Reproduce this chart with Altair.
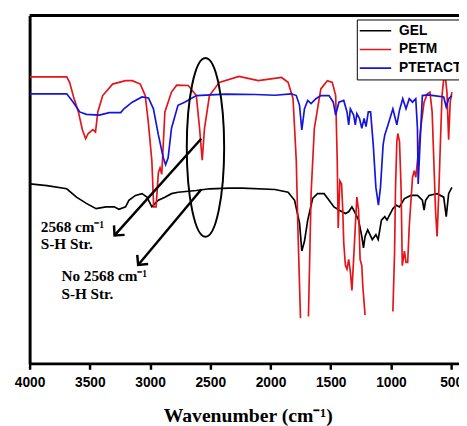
import altair as alt
import pandas as pd

# ---------------- data ----------------
series_names = ["GEL", "PETM", "PTETACT"]
series_colors = ["#000000", "#e3151a", "#1414dc"]
tick_values = [4000, 3500, 3000, 2500, 2000, 1500, 1000, 500]

gel_wn = [3998, 3856, 3692, 3611, 3529, 3448, 3366, 3298, 3258, 3203, 3176, 3121,
          3067, 3026, 2985, 2958, 2931, 2877, 2822, 2768, 2616, 2507, 2344, 2234,
          1963, 1854, 1800, 1759, 1740, 1718, 1691, 1650, 1610, 1555, 1514, 1473,
          1432, 1378, 1351, 1324, 1302, 1269, 1242, 1228, 1215, 1193, 1174, 1155,
          1125, 1106, 1079, 1051, 1033, 1011, 984, 957, 929, 888, 834, 780, 739,
          725, 712, 684, 617, 562, 541, 521, 494]
gel_t = [51.6, 51.1, 50.2, 47.8, 46.0, 44.5, 45.0, 45.0, 44.3, 45.0, 46.9, 48.3,
         48.8, 47.8, 45.0, 46.0, 46.9, 47.8, 48.8, 49.2, 49.7, 50.2, 50.4, 50.4,
         50.0, 49.2, 46.9, 40.3, 32.3, 35.1, 41.2, 47.4, 48.8, 48.8, 46.9, 45.0,
         44.1, 43.1, 43.6, 45.0, 43.6, 41.2, 36.5, 33.2, 36.5, 38.4, 37.0, 35.6,
         37.0, 35.6, 41.2, 42.2, 41.2, 42.7, 44.5, 45.5, 45.0, 47.4, 48.3, 48.3, 46.9,
         44.1, 46.9, 48.3, 48.8, 47.8, 42.2, 48.8, 50.6]

ptetact_wn = [3998, 3692, 3638, 3584, 3529, 3421, 3339, 3244, 3217, 3148, 3067, 3013,
              2972, 2931, 2890, 2871, 2850, 2822, 2768, 2713, 2616, 2371, 2126, 1963,
              1827, 1786, 1759, 1740, 1718, 1691, 1663, 1623, 1582, 1514, 1479, 1459,
              1432, 1392, 1365, 1351, 1337, 1310, 1296, 1283, 1261, 1242, 1223, 1207,
              1188, 1169, 1147, 1125, 1104, 1087, 1065, 1051, 1024, 984, 951, 929, 902,
              875, 848, 821, 794, 780, 774, 759, 739, 698, 644, 562, 541, 521, 494]
ptetact_t = [77.5, 77.5, 75.1, 72.3, 71.6, 71.4, 72.1, 72.1, 73.2, 75.1, 76.6, 76.3,
             73.2, 65.7, 59.1, 57.1, 59.1, 67.6, 74.2, 75.1, 77.0, 77.4, 77.3, 77.1,
             77.5, 77.0, 74.2, 67.1, 73.2, 75.6, 74.7, 76.1, 77.0, 77.0, 75.1, 71.4,
             75.1, 75.6, 72.3, 68.6, 73.2, 71.4, 68.6, 71.8, 70.4, 67.6, 70.4, 68.1,
             72.3, 72.3, 62.9, 50.6, 45.5, 50.6, 62.9, 65.7, 68.6, 73.2, 68.6, 72.8, 76.1,
             73.2, 76.1, 75.1, 76.1, 67.6, 51.6, 62.9, 77.0, 77.2, 77.0, 76.6, 73.7, 76.1, 77.0]

# PETM runs off the bottom of its trace in three places, so it is drawn in pieces
petm_wn_a = [3998, 3692, 3668, 3635, 3595, 3562, 3535, 3513, 3475, 3453, 3434, 3393,
             3311, 3203, 3148, 3081, 3040, 3015, 2985, 2970, 2950, 2931, 2917, 2903,
             2893, 2877, 2822, 2779, 2683, 2616, 2589, 2567, 2548, 2507, 2425, 2262,
             2101, 1908, 1854, 1813, 1800, 1786, 1773, 1751]
petm_t_a = [82.4, 82.4, 80.8, 76.6, 72.3, 67.2, 64.6, 66.1, 67.2, 66.5, 72.3, 77.0,
            80.3, 81.3, 81.3, 80.3, 77.0, 69.5, 58.2, 45.0, 45.0, 54.8, 56.2, 54.4,
            61.0, 72.3, 78.0, 80.0, 79.9, 77.0, 67.6, 58.4, 67.6, 77.0, 80.8, 82.5,
            81.3, 82.2, 80.8, 76.1, 67.6, 58.2, 39.4, 13.0]
petm_wn_b = [1685, 1663, 1636, 1582, 1528, 1487, 1459, 1446, 1438, 1424, 1410, 1400,
             1392, 1378, 1365, 1351, 1337, 1324, 1310, 1296, 1283, 1269, 1256, 1242,
             1234, 1215]
petm_t_b = [13.5, 48.8, 67.6, 78.9, 81.3, 80.8, 77.0, 58.2, 38.9, 52.5, 51.6, 44.1,
            34.7, 28.1, 27.1, 29.9, 26.3, 21.0, 29.9, 39.4, 47.8, 44.1, 29.9, 28.1,
            22.4, 13.9]
petm_wn_c = [984, 970, 962, 951, 943, 929, 916, 906, 888, 875, 861, 848, 821, 807,
             794, 780, 753, 725, 698, 676, 658, 644, 630, 617, 603, 590, 576, 562,
             548, 535, 521, 508, 494]
petm_t_c = [14.9, 31.8, 50.6, 63.8, 66.1, 63.8, 50.6, 28.1, 32.3, 29.0, 29.0, 39.4,
            53.5, 55.4, 53.5, 58.2, 67.6, 75.1, 77.5, 78.0, 72.3, 58.2, 44.1, 36.5,
            48.8, 62.9, 77.0, 81.7, 82.2, 78.0, 64.3, 75.1, 78.0]

# annotations (data coordinates)
note_text = ["2568 cm⁻¹", "S-H Str.", "No 2568 cm⁻¹", "S-H Str."]
note_wn = [3907, 3907, 3736, 3736]
note_t = [37.7, 32.9, 23.7, 18.5]
arrow_from_wn = [2575, 2575]
arrow_from_t = [64.6, 50.0]
arrow_to_wn = [3295, 3099]
arrow_to_t = [36.8, 28.3]
arrow_angle = [222, 220]
ellipse_wn = [2540]
ellipse_t = [62.1]

# ---------------- tables ----------------
rows = []
for w, t in zip(gel_wn, gel_t):
    rows.append({"wn": w, "t": t, "series": "GEL", "seg": "GEL"})
for name, ws, ts in [("a", petm_wn_a, petm_t_a), ("b", petm_wn_b, petm_t_b), ("c", petm_wn_c, petm_t_c)]:
    for w, t in zip(ws, ts):
        rows.append({"wn": w, "t": t, "series": "PETM", "seg": "PETM_" + name})
for w, t in zip(ptetact_wn, ptetact_t):
    rows.append({"wn": w, "t": t, "series": "PTETACT", "seg": "PTETACT"})
spectra = pd.DataFrame(rows)

notes = pd.DataFrame({"wn": note_wn, "t": note_t, "label": note_text})
arrows = pd.DataFrame({"wn": arrow_from_wn, "t": arrow_from_t,
                       "wn2": arrow_to_wn, "t2": arrow_to_t})
heads = pd.DataFrame({"wn": arrow_to_wn, "t": arrow_to_t, "ang": arrow_angle})
ellipse = pd.DataFrame({"wn": ellipse_wn, "t": ellipse_t})
frame = pd.DataFrame({"k": [0]})

# ---------------- encodings ----------------
xscale = alt.Scale(domain=[4000, 435], nice=False, zero=False)
yscale = alt.Scale(domain=[0, 100], nice=False, zero=False)
xaxis = alt.Axis(values=tick_values, format="d", grid=False, labelFlush=False,
                 domainColor="black", domainWidth=3,
                 tickColor="black", tickWidth=2.5, tickSize=6,
                 labelFont="Liberation Sans", labelFontWeight="bold", labelFontSize=14,
                 labelColor="black", labelPadding=7,
                 titleFont="Liberation Serif", titleFontWeight="bold", titleFontSize=20,
                 titleColor="black", titleBaseline="alphabetic", titleAlign="center",
                 titleX=222, titleY=59)
yaxis = alt.Axis(labels=False, ticks=False, grid=False,
                 domainColor="black", domainWidth=3)
xenc = alt.X("wn:Q", scale=xscale, axis=xaxis, title="Wavenumber (cm⁻¹)")
yenc = alt.Y("t:Q", scale=yscale, axis=yaxis, title=None)

legend = alt.Legend(title=None, orient="none", legendX=333, legendY=4,
                    symbolType="stroke", symbolSize=1024, symbolStrokeWidth=1.6,
                    clipHeight=19, rowPadding=0, padding=2,
                    labelFont="Liberation Sans", labelFontWeight="bold",
                    labelFontSize=14, labelColor="black", labelOffset=7,
                    strokeColor="black", fillColor="white")

lines = alt.Chart(spectra).mark_line(strokeWidth=1.7).encode(
    x=xenc, y=yenc,
    color=alt.Color("series:N", scale=alt.Scale(domain=series_names, range=series_colors),
                    legend=legend),
    detail="seg:N",
)

top_border = alt.Chart(frame).mark_rule(color="black", strokeWidth=3).encode(
    x=alt.value(0), x2=alt.value(437), y=alt.value(0))

ellipse_path = ("M 0 -1 C 0.1154 -1 0.209 -0.5523 0.209 0 C 0.209 0.5523 0.1154 1 0 1 "
                "C -0.1154 1 -0.209 0.5523 -0.209 0 C -0.209 -0.5523 -0.1154 -1 0 -1 Z")
ell = alt.Chart(ellipse).mark_point(shape=ellipse_path, filled=False, color="black",
                                    strokeWidth=2, size=33124, opacity=1).encode(x=xenc, y=yenc)

shafts = alt.Chart(arrows).mark_rule(color="black", strokeWidth=2.5).encode(
    x=xenc, y=yenc, x2=alt.X2("wn2:Q"), y2=alt.Y2("t2:Q"))

head_path = "M -1 1 L 0 0 L 1 1"
arrow_heads = alt.Chart(heads).mark_point(shape=head_path, filled=False, color="black",
                                          strokeWidth=2.5, size=210, opacity=1).encode(
    x=xenc, y=yenc, angle=alt.Angle("ang:Q", scale=None))

texts = alt.Chart(notes).mark_text(font="Liberation Serif", fontWeight="bold",
                                   fontSize=15.5, align="left", baseline="alphabetic",
                                   color="black").encode(x=xenc, y=yenc, text="label:N")

chart = alt.layer(lines, top_border, ell, shafts, arrow_heads, texts).properties(
    width=437, height=354,
    padding={"left": 22, "top": 4, "right": 0, "bottom": 60},
    autosize=alt.AutoSizeParams(type="none"),
).configure_view(stroke=None)

chart.save("out.html", embed_options={"renderer": "svg", "actions": False})
